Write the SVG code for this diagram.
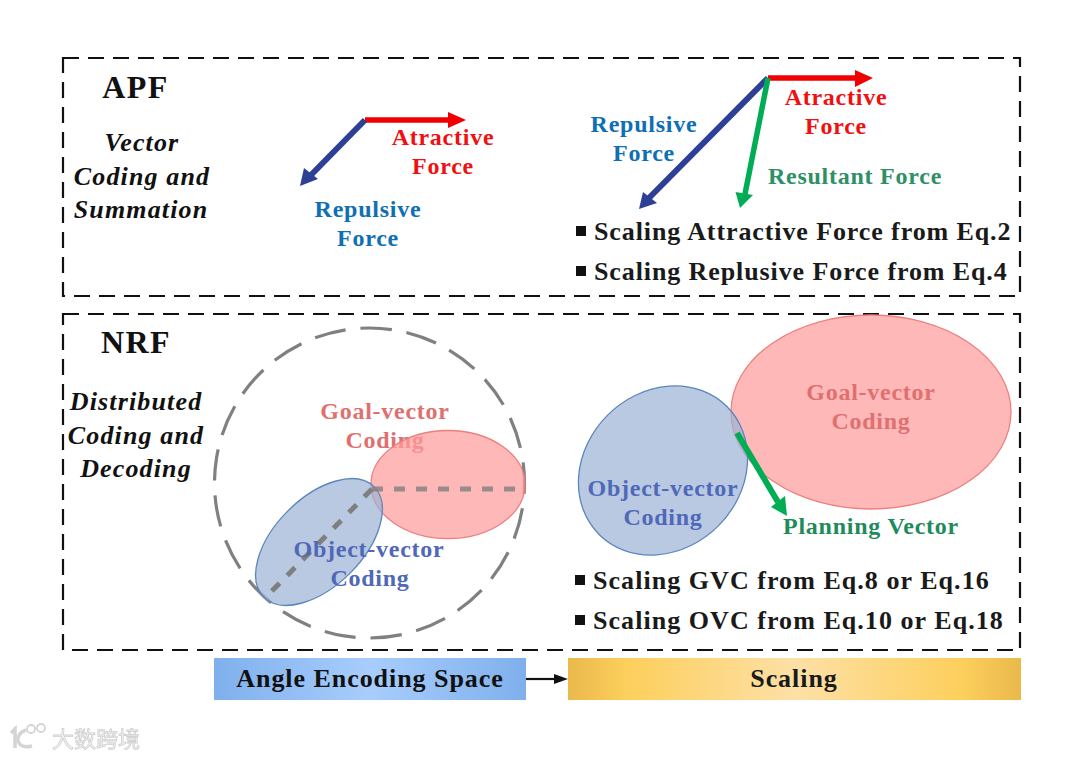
<svg xmlns="http://www.w3.org/2000/svg" width="1078" height="758" viewBox="0 0 1078 758">
<style>
text{font-family:"Liberation Serif","Times New Roman",serif;font-weight:700;text-anchor:middle;letter-spacing:.75px}
.lbl{font-size:24px}
.title{font-size:32px;fill:#111;letter-spacing:1.4px}
.it{font-size:26px;font-style:italic;fill:#111;letter-spacing:1.15px}
.blk{font-size:26px;fill:#1a1a1a;text-anchor:start;letter-spacing:.9px}
.blk2{letter-spacing:1.05px}
.blue{fill:#0f6fb5}.red{fill:#f01010}.grn{fill:#2f8f66}.grn2{fill:#1f8a5c}
.gc{fill:#e07070}.oc{fill:#4f68b8}
.frame{fill:none;stroke:#111;stroke-width:2.2;stroke-dasharray:16 9}
.guide{fill:none;stroke:#808080;stroke-width:3.2}
.goal{fill:#ff9c9c;fill-opacity:.72;stroke:#ee7f7f;stroke-width:1.3}
.obj{fill:#9db4d6;fill-opacity:.72;stroke:#5b86bd;stroke-width:1.3}
.wm{font-family:"Noto Sans CJK SC",sans-serif;font-size:22px;fill:#f6f6f6;stroke:#cfcfcf;stroke-width:.8;text-anchor:start;letter-spacing:0;font-weight:400}
</style>
<defs>
<linearGradient id="bg1"><stop offset="0" stop-color="#7fb0ec"/><stop offset=".5" stop-color="#a8cdfd"/><stop offset="1" stop-color="#7fb0ec"/></linearGradient>
<linearGradient id="bg2"><stop offset="0" stop-color="#e9b94c"/><stop offset=".13" stop-color="#fdcf5c"/><stop offset=".5" stop-color="#fde0a6"/><stop offset=".87" stop-color="#fdcf5c"/><stop offset="1" stop-color="#e9b94c"/></linearGradient>
<filter id="soft" x="-10%" y="-20%" width="120%" height="140%"><feGaussianBlur stdDeviation=".6"/></filter>
</defs>
<rect width="1078" height="758" fill="#fff"/>

<g id="apf-frame"><rect class="frame" x="63" y="58" width="957" height="238"/></g>
<g id="nrf-frame"><rect class="frame" x="63" y="314" width="957" height="336"/></g>

<g id="apf-left">
<text class="title" x="135.500" y="98">APF</text>
<text class="it" x="142" y="151">Vector</text>
<text class="it" x="142" y="185">Coding and</text>
<text class="it" x="141" y="218">Summation</text>
<text class="lbl red" x="443" y="145">Atractive</text>
<text class="lbl red" x="443" y="174">Force</text>
<text class="lbl blue" x="368" y="217">Repulsive</text>
<text class="lbl blue" x="368" y="246">Force</text>
</g>

<g id="apf-right">
<text class="lbl red" x="836" y="105">Atractive</text>
<text class="lbl red" x="836" y="134">Force</text>
<text class="lbl blue" x="644" y="132">Repulsive</text>
<text class="lbl blue" x="644" y="161">Force</text>
<text class="lbl grn" x="855" y="184">Resultant Force</text>
<rect x="576" y="226" width="10" height="10" fill="#111"/>
<text class="blk" x="594" y="240">Scaling Attractive Force from Eq.2</text>
<rect x="576" y="266" width="10" height="10" fill="#111"/>
<text class="blk" x="594" y="280">Scaling Replusive Force from Eq.4</text>
</g>

<g id="nrf-left">
<text class="title" x="136" y="353">NRF</text>
<text class="it" x="136" y="410">Distributed</text>
<text class="it" x="136" y="444">Coding and</text>
<text class="it" x="136" y="477">Decoding</text>
<circle class="guide" cx="369.500" cy="483" r="155" stroke-dasharray="31.500 14.870" transform="rotate(9.4 369.500 483)"/>
<text class="lbl gc" x="385" y="419">Goal-vector</text>
<text class="lbl gc" x="385" y="448">Coding</text>
<ellipse class="goal" cx="448" cy="484.500" rx="77" ry="54"/>
<ellipse class="obj" cx="319" cy="542" rx="78" ry="44" transform="rotate(-45 319 542)"/>
<path d="M372 489H525" fill="none" stroke="#7f7f7f" stroke-opacity=".8" stroke-width="5" stroke-dasharray="11 11"/>
<path d="M372 489L270 593" fill="none" stroke="#7f7f7f" stroke-width="5" stroke-dasharray="11 11"/>
<text class="lbl oc" x="369" y="557">Object-vector</text>
<text class="lbl oc" x="370" y="586">Coding</text>
</g>

<g id="nrf-right">
<ellipse class="goal" cx="871" cy="412" rx="140" ry="97"/>
<ellipse class="obj" cx="663" cy="470.500" rx="90.400" ry="78.300" transform="rotate(-45 663 470.500)"/>
<text class="lbl gc" x="871" y="400">Goal-vector</text>
<text class="lbl gc" x="871" y="429">Coding</text>
<text class="lbl oc" x="663" y="496">Object-vector</text>
<text class="lbl oc" x="663" y="525">Coding</text>
<text class="lbl grn2" x="871" y="534">Planning Vector</text>
<rect x="575" y="575" width="10" height="10" fill="#111"/>
<text class="blk blk2" x="593" y="589">Scaling GVC from Eq.8 or Eq.16</text>
<rect x="575" y="615" width="10" height="10" fill="#111"/>
<text class="blk blk2" x="593" y="629">Scaling OVC from Eq.10 or Eq.18</text>
</g>

<g id="angle-box">
<rect x="214" y="658" width="312" height="42" fill="url(#bg1)"/>
<text class="lbl" x="370" y="687" fill="#111" style="font-size:26px;letter-spacing:.95px">Angle Encoding Space</text>
</g>
<g id="scaling-box">
<rect x="568" y="658" width="453" height="42" fill="url(#bg2)"/>
<text class="lbl" x="794" y="687" fill="#1a1a1a" style="font-size:26px;letter-spacing:.95px">Scaling</text>
</g>

<g id="connectors">
<path d="M365 120H450" stroke="#f00000" stroke-width="5.500" fill="none"/><path d="M448 112L466 120L448 128Z" fill="#f00000"/>
<path d="M365 120L311 175" stroke="#2e3f96" stroke-width="6" fill="none"/><path d="M300 186L304 168L318 179Z" fill="#2e3f96"/>
<path d="M768 78H858" stroke="#f00000" stroke-width="5.500" fill="none"/><path d="M855 70L873 78L855 87Z" fill="#f00000"/>
<path d="M768 78L648 199" stroke="#2e3f96" stroke-width="6" fill="none"/><path d="M639 209L643 192L657 203Z" fill="#2e3f96"/>
<path d="M768 78L745 194" stroke="#00ad55" stroke-width="5.500" fill="none"/><path d="M740 208L735.500 192L753 195Z" fill="#00ad55"/>
<path d="M737 433L778 502" stroke="#00ad55" stroke-width="6" fill="none"/><path d="M787 516L771 507L785 496Z" fill="#00ad55"/>
<path d="M526 679H558" stroke="#111" stroke-width="2.200" fill="none"/><path d="M554 674L568 679L554 684Z" fill="#111"/>
</g>

<g id="watermark" filter="url(#soft)">
<path d="M11 733L15 729V748" fill="none" stroke="#d4d4d4" stroke-width="3.500"/>
<path d="M26 730Q17 733 18 741Q21 749 32 746" fill="none" stroke="#d4d4d4" stroke-width="3.500"/>
<circle cx="31" cy="729" r="4" fill="none" stroke="#d4d4d4" stroke-width="1.800"/>
<circle cx="41" cy="728" r="4" fill="none" stroke="#d4d4d4" stroke-width="1.800"/>
<text class="wm" x="52" y="747">大数跨境</text>
</g>
</svg>
